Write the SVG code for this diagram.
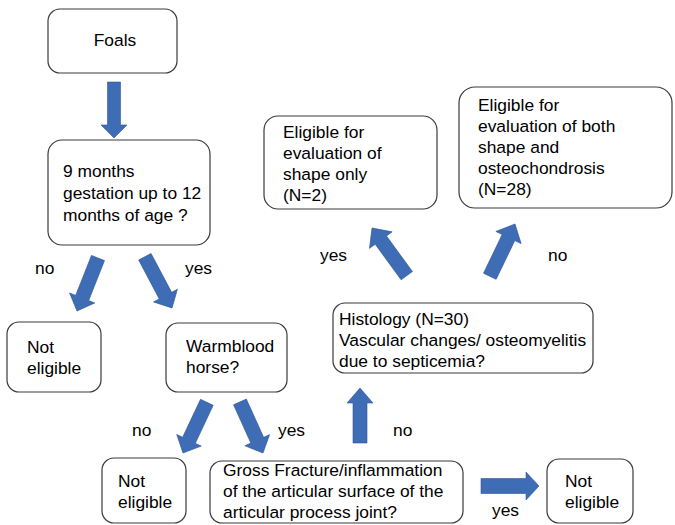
<svg xmlns="http://www.w3.org/2000/svg" width="675" height="525" viewBox="0 0 675 525">
<defs>
<style>
.box{fill:#fff;stroke:#3a3a3a;stroke-width:1.2}
text{font-family:"Liberation Sans",Arial,sans-serif;font-size:17.4px;fill:#000}
.arr{fill:#3F6DB5;stroke:#2F5597;stroke-width:0.6}
</style>
</defs>
<rect width="675" height="525" fill="#fff"/>
<g id="foals"><rect class="box" x="48" y="9" width="129" height="64" rx="12"/><text x="115" y="46" text-anchor="middle">Foals</text></g>
<g id="age"><rect class="box" x="48" y="140" width="162" height="105" rx="14"/><text x="63" y="177">9 months</text><text x="63" y="199">gestation up to 12</text><text x="63" y="221">months of age ?</text></g>
<g id="noteligible1"><rect class="box" x="7" y="322" width="94" height="70" rx="12"/><text x="27" y="353">Not</text><text x="27" y="374">eligible</text></g>
<g id="warmblood"><rect class="box" x="166" y="323" width="121" height="69" rx="12"/><text x="186" y="352">Warmblood</text><text x="186" y="373">horse?</text></g>
<g id="noteligible2"><rect class="box" x="102" y="458" width="84" height="65" rx="12"/><text x="118" y="487">Not</text><text x="118" y="508">eligible</text></g>
<g id="gross"><rect class="box" x="210" y="461" width="253" height="62" rx="12"/><text x="223" y="476">Gross Fracture/inflammation</text><text x="223" y="497">of the articular surface of the</text><text x="223" y="518">articular process joint?</text></g>
<g id="noteligible3"><rect class="box" x="547" y="459" width="86" height="64" rx="12"/><text x="565" y="487">Not</text><text x="565" y="508">eligible</text></g>
<g id="histology"><rect class="box" x="333" y="303" width="260" height="70" rx="12"/><text x="339" y="325">Histology (N=30)</text><text x="339" y="346">Vascular changes/ osteomyelitis</text><text x="339" y="367">due to septicemia?</text></g>
<g id="shape"><rect class="box" x="264" y="116" width="173" height="93" rx="14"/><text x="283" y="138">Eligible for</text><text x="283" y="159">evaluation of</text><text x="283" y="180">shape only</text><text x="283" y="201">(N=2)</text></g>
<g id="both"><rect class="box" x="459" y="87" width="213" height="121" rx="16"/><text x="478" y="111">Eligible for</text><text x="478" y="132">evaluation of both</text><text x="478" y="153">shape and</text><text x="478" y="174">osteochondrosis</text><text x="478" y="195">(N=28)</text></g>
<g id="connectors">
<polygon class="arr" transform="translate(114,138) rotate(90)" points="-56,-6.5 -13,-6.5 -13,-13 0,0 -13,13 -13,6.5 -56,6.5"/>
<polygon class="arr" transform="translate(77,311) rotate(111.6)" points="-57,-7 -14,-7 -14,-13.5 0,0 -14,13.5 -14,7 -57,7"/>
<polygon class="arr" transform="translate(172,308) rotate(62.1)" points="-58,-7 -14,-7 -14,-13.5 0,0 -14,13.5 -14,7 -58,7"/>
<polygon class="arr" transform="translate(183,453) rotate(115.2)" points="-56,-7 -14,-7 -14,-13.5 0,0 -14,13.5 -14,7 -56,7"/>
<polygon class="arr" transform="translate(263,453) rotate(65.7)" points="-56,-7 -14,-7 -14,-13.5 0,0 -14,13.5 -14,7 -56,7"/>
<polygon class="arr" transform="translate(360,388) rotate(-90)" points="-55,-7 -15,-7 -15,-13 0,0 -15,13 -15,7 -55,7"/>
<polygon class="arr" transform="translate(539,486) rotate(0)" points="-58,-7.5 -13,-7.5 -13,-14 0,0 -13,14 -13,7.5 -58,7.5"/>
<polygon class="arr" transform="translate(372,228) rotate(-126.1)" points="-59,-7 -15,-7 -15,-14 0,0 -15,14 -15,7 -59,7"/>
<polygon class="arr" transform="translate(515,224) rotate(-64.3)" points="-58,-7 -15,-7 -15,-14 0,0 -15,14 -15,7 -58,7"/>
<text x="35" y="274">no</text>
<text x="185" y="274">yes</text>
<text x="132" y="436">no</text>
<text x="278" y="436">yes</text>
<text x="393" y="436">no</text>
<text x="492" y="516">yes</text>
<text x="320" y="261">yes</text>
<text x="548" y="261">no</text>
</g>
</svg>
